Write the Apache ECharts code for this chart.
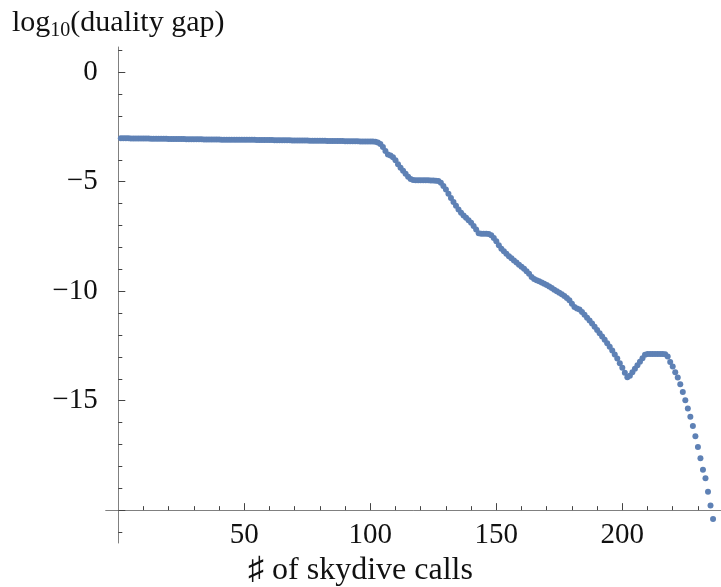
<!DOCTYPE html>
<html>
<head>
<meta charset="utf-8">
<script src="https://cdn.jsdelivr.net/npm/echarts@6/dist/echarts.min.js"></script>
<style>
html,body{margin:0;padding:0;background:#fff;}
#chart{width:721px;height:587px;}
</style>
</head>
<body>
<div id="chart"></div>
<script>
// ---- data ----
const firstCall = 1; // x of the first point; points are consecutive calls
const gapCalls1to50 = [
  -3.02,-3.02,-3.02,-3.02,-3.03,-3.03,-3.03,-3.03,-3.03,-3.03,
  -3.03,-3.03,-3.04,-3.04,-3.04,-3.04,-3.04,-3.04,-3.04,-3.05,
  -3.05,-3.05,-3.05,-3.05,-3.05,-3.05,-3.06,-3.06,-3.06,-3.06,
  -3.06,-3.06,-3.06,-3.07,-3.07,-3.07,-3.07,-3.07,-3.07,-3.07,
  -3.08,-3.08,-3.08,-3.08,-3.08,-3.08,-3.08,-3.09,-3.09,-3.09
];
const gapCalls51to100 = [
  -3.09,-3.09,-3.09,-3.09,-3.10,-3.10,-3.10,-3.10,-3.10,-3.10,
  -3.10,-3.11,-3.11,-3.11,-3.11,-3.11,-3.11,-3.11,-3.12,-3.12,
  -3.12,-3.12,-3.12,-3.12,-3.12,-3.13,-3.13,-3.13,-3.13,-3.13,
  -3.13,-3.13,-3.14,-3.14,-3.14,-3.14,-3.14,-3.14,-3.14,-3.15,
  -3.15,-3.15,-3.15,-3.15,-3.15,-3.16,-3.16,-3.16,-3.16,-3.17
];
const gapCalls101to150 = [
  -3.17,-3.18,-3.21,-3.28,-3.42,-3.60,-3.76,-3.80,-3.88,-4.02,
  -4.20,-4.36,-4.50,-4.64,-4.78,-4.88,-4.92,-4.93,-4.93,-4.93,
  -4.94,-4.94,-4.94,-4.95,-4.95,-4.96,-4.97,-5.05,-5.20,-5.36,
  -5.55,-5.74,-5.93,-6.10,-6.27,-6.42,-6.54,-6.65,-6.76,-6.88,
  -7.02,-7.18,-7.36,-7.38,-7.38,-7.38,-7.39,-7.45,-7.57,-7.72
];
const gapCalls151to200 = [
  -7.90,-8.06,-8.18,-8.29,-8.40,-8.50,-8.60,-8.69,-8.79,-8.88,
  -8.98,-9.09,-9.21,-9.35,-9.44,-9.50,-9.55,-9.60,-9.66,-9.72,
  -9.79,-9.86,-9.93,-10.00,-10.07,-10.14,-10.22,-10.31,-10.42,-10.58,
  -10.72,-10.79,-10.84,-10.95,-11.08,-11.21,-11.34,-11.48,-11.62,-11.77,
  -11.92,-12.07,-12.22,-12.38,-12.54,-12.71,-12.89,-13.08,-13.29,-13.50
];
const gapCalls201to236 = [
  -13.72,-13.93,-13.86,-13.70,-13.54,-13.38,-13.22,-13.06,-12.90,-12.87,
  -12.87,-12.87,-12.87,-12.87,-12.87,-12.87,-12.88,-12.98,-13.24,-13.44,
  -13.70,-13.94,-14.25,-14.61,-14.98,-15.36,-15.74,-16.16,-16.62,-17.12,
  -17.63,-18.15,-18.54,-19.16,-19.79,-20.40
];
const xMajorTicks = [50, 100, 150, 200];
const xMinorTicks = [10,20,30,40,60,70,80,90,110,120,130,140,160,170,180,190,210,220,230];
const yMajorTicks = [0, -5, -10, -15, -20];
const yLabelTicks = [0, -5, -10, -15];
const yMinorTicks = [1,-1,-2,-3,-4,-6,-7,-8,-9,-11,-12,-13,-14,-16,-17,-18,-19,-21];
const xTitle = '\u266F of skydive calls';

// ---- build ----
const gapValues = [].concat(gapCalls1to50, gapCalls51to100, gapCalls101to150, gapCalls151to200, gapCalls201to236);
const points = gapValues.map((v, i) => [firstCall + i, v]);

const X_MIN = -5, X_MAX = 239, Y_MIN = -21.5, Y_MAX = 1.15, X_AXIS_AT = -20;
const G = {left: 105.7, top: 47, width: 614.9, height: 496};
const xAxisOffset = -(X_AXIS_AT - Y_MIN) / (Y_MAX - Y_MIN) * G.height;

const FONT = 'Liberation Serif';
const AXIS_COLOR = '#808080';
const TICK_COLOR = '#444';
const fmt = v => (v < 0 ? '\u2212' + Math.abs(v) : String(v));

const chart = echarts.init(document.getElementById('chart'), null, {renderer: 'canvas'});
chart.setOption({
  animation: false,
  backgroundColor: '#fff',
  title: [
    {
      text: '{a|log}{s|10}{a|(duality gap)}',
      left: 7, top: 1,
      textStyle: {
        fontWeight: 'normal',
        rich: {
          a: {fontFamily: FONT, fontSize: 30, fontWeight: 'normal', color: '#111'},
          s: {fontFamily: FONT, fontSize: 20, fontWeight: 'normal', color: '#111', padding: [15, 0, 0, 0]}
        }
      }
    },
    {
      text: xTitle,
      left: 'center', top: 550,
      textStyle: {fontFamily: FONT, fontSize: 32, fontWeight: 'normal', color: '#111'}
    }
  ],
  grid: [
    Object.assign({containLabel: false}, G),
    Object.assign({containLabel: false}, G)
  ],
  xAxis: [
    {
      gridIndex: 0, type: 'value', min: X_MIN, max: X_MAX,
      position: 'bottom', offset: xAxisOffset,
      axisLine: {onZero: false, lineStyle: {color: AXIS_COLOR, width: 1}},
      axisTick: {inside: true, length: 7, customValues: xMajorTicks, lineStyle: {color: TICK_COLOR}},
      axisLabel: {customValues: xMajorTicks, margin: 11, fontFamily: FONT, fontSize: 29, color: '#111'},
      splitLine: {show: false}
    },
    {
      gridIndex: 1, type: 'value', min: X_MIN, max: X_MAX,
      position: 'bottom', offset: xAxisOffset,
      axisLine: {onZero: false, lineStyle: {opacity: 0}},
      axisTick: {inside: true, length: 4, customValues: xMinorTicks, lineStyle: {color: TICK_COLOR}},
      axisLabel: {show: false},
      splitLine: {show: false}
    }
  ],
  yAxis: [
    {
      gridIndex: 0, type: 'value', min: Y_MIN, max: Y_MAX,
      axisLine: {show: true, onZero: true, lineStyle: {color: AXIS_COLOR, width: 1}},
      axisTick: {show: true, inside: true, length: 7, customValues: yMajorTicks, lineStyle: {color: TICK_COLOR}},
      axisLabel: {customValues: yLabelTicks, margin: 8, fontFamily: FONT, fontSize: 29, color: '#111', formatter: fmt},
      splitLine: {show: false}
    },
    {
      gridIndex: 1, type: 'value', min: Y_MIN, max: Y_MAX,
      axisLine: {show: true, onZero: true, lineStyle: {opacity: 0}},
      axisTick: {show: true, inside: true, length: 4, customValues: yMinorTicks, lineStyle: {color: TICK_COLOR}},
      axisLabel: {show: false},
      splitLine: {show: false}
    }
  ],
  series: [
    {
      type: 'scatter', xAxisIndex: 0, yAxisIndex: 0,
      data: points, symbol: 'circle', symbolSize: 6,
      itemStyle: {color: '#5E81B5', opacity: 1},
      clip: false
    }
  ]
});
</script>
</body>
</html>
